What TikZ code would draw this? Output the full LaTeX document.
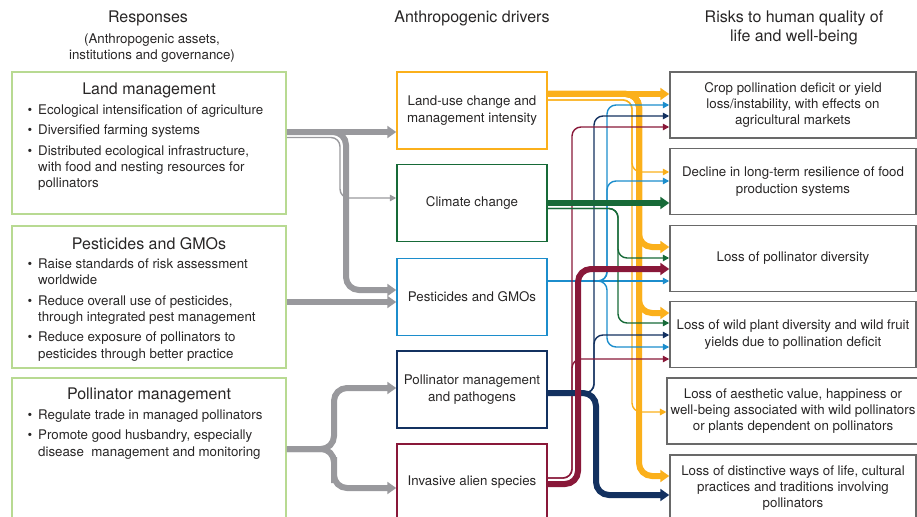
\documentclass[tikz,border=0pt]{standalone}
\usepackage{fontspec}
\setmainfont{TeX Gyre Heros}
\usetikzlibrary{arrows.meta}

\definecolor{inkgray}{RGB}{40,38,38}
\definecolor{respgreen}{RGB}{184,218,146}
\definecolor{riskgray}{RGB}{105,105,105}
\definecolor{flowgray}{RGB}{153,153,157}
\definecolor{landorange}{RGB}{251,176,27}
\definecolor{climgreen}{RGB}{23,106,56}
\definecolor{pestblue}{RGB}{28,141,204}
\definecolor{polnavy}{RGB}{19,49,96}
\definecolor{invmaroon}{RGB}{137,24,57}

\newcommand{\bodyfont}{\fontsize{13.3}{16.3}\selectfont}
\newcommand{\headfont}{\fontsize{16}{19}\selectfont}
\newcommand{\bitem}{\makebox[10.5pt][l]{\textbullet}}
\newcommand{\bcont}{\hspace*{10.5pt}}

\tikzset{
  every node/.append style={text=inkgray},
  resp/.style={draw=respgreen, line width=1.5pt, minimum width=274pt, inner sep=0pt},
  resptitle/.style={font=\headfont, inner sep=0pt},
  resplist/.style={font=\bodyfont, align=left, inner sep=0pt, anchor=north west},
  drv/.style={draw=#1, line width=1.5pt, minimum width=150pt, minimum height=77pt, align=center, font=\bodyfont},
  risk/.style={draw=riskgray, line width=1.5pt, minimum width=246pt, minimum height=66pt, align=center, font=\bodyfont},
  thickflow/.style={draw=#1, line width=6pt, rounded corners=13pt, -{Triangle[length=9pt,width=12pt]}},
  thinflow/.style={draw=#1, line width=1.4pt, rounded corners=9pt, -{Triangle[length=6.5pt,width=6.5pt]}}
}

\begin{document}
\begin{tikzpicture}[x=1pt,y=-1pt]
    \useasboundingbox (0,0) rectangle (917,516);

    % column headings
    \node[font=\headfont] (resphead) at (148,18) {Responses};
    \node[font=\bodyfont, align=center] (respsub) at (152,48) {(Anthropogenic assets,\\institutions and governance)};
    \node[font=\headfont] (drvhead) at (472,18) {Anthropogenic drivers};
    \node[font=\headfont, align=center] (riskhead) at (794,28) {Risks to human quality of\\life and well-being};

    % responses
    \node[resp, minimum height=142pt] (landresp) at (149,143) {};
    \node[resptitle] (landtitle) at (149,90) {Land management};
    \node[resplist] (landlist) at (27.5,104.7) {\bitem Ecological intensification of agriculture\\[4pt]
      \bitem Diversified farming systems\\[4pt]
      \bitem Distributed ecological infrastructure,\\
      \bcont with food and nesting resources for\\
      \bcont pollinators};

    \node[resp, minimum height=142pt] (pestresp) at (149,297) {};
    \node[resptitle] (pesttitle) at (149,244) {Pesticides and GMOs};
    \node[resplist] (pestlist) at (27.5,258.7) {\bitem Raise standards of risk assessment\\
      \bcont worldwide\\[4pt]
      \bitem Reduce overall use of pesticides,\\
      \bcont through integrated pest management\\[4pt]
      \bitem Reduce exposure of pollinators to\\
      \bcont pesticides through better practice};

    \node[resp, minimum height=160pt] (polresp) at (149,458) {};
    \node[resptitle] (poltitle) at (149,395) {Pollinator management};
    \node[resplist] (pollist) at (27.5,409.7) {\bitem Regulate trade in managed pollinators\\[4pt]
      \bitem Promote good husbandry, especially\\
      \bcont disease\ \ management and monitoring};

    % drivers
    \node[drv=landorange] (landuse) at (472,110.5) {Land-use change and\\management intensity};
    \node[drv=climgreen] (climate) at (472,203) {Climate change};
    \node[drv=pestblue] (pest) at (472,297) {Pesticides and GMOs};
    \node[drv=polnavy] (polmgmt) at (472,389.5) {Pollinator management\\and pathogens};
    \node[drv=invmaroon] (invasive) at (472,482.5) {Invasive alien species};

    % risks
    \node[risk] (crop) at (793,105) {Crop pollination deficit or yield\\loss/instability, with effects on\\agricultural markets};
    \node[risk] (decline) at (793,181.5) {Decline in long-term resilience of food\\production systems};
    \node[risk] (poldiv) at (793,258.5) {Loss of pollinator diversity};
    \node[risk] (wild) at (793,334.5) {Loss of wild plant diversity and wild fruit\\yields due to pollination deficit};
    \node[risk] (aesth) at (793,411) {Loss of aesthetic value, happiness or\\well-being associated with wild pollinators\\or plants dependent on pollinators};
    \node[risk] (distinct) at (793,488) {Loss of distinctive ways of life, cultural\\practices and traditions involving\\pollinators};

    % responses -> drivers
    \draw[thinflow=flowgray] (landresp.east |- 0,137.5) -| (340,170) |- (climate.west |- 0,198);
    \draw[thickflow=flowgray] (landresp.east |- 0,132) -- (landuse.west |- 0,132);
    \draw[thickflow=flowgray] (landresp.east |- 0,132) -| (346,220) |- (pest.west |- 0,290);
    \draw[thickflow=flowgray] (pestresp.east |- 0,302) -- (pest.west |- 0,302);
    \draw[thickflow=flowgray] (polresp.east |- 0,449) -| (334,420) |- (polmgmt.west |- 0,388);
    \draw[thickflow=flowgray] (polresp.east |- 0,449) -| (334,470) |- (invasive.west |- 0,488);

    % drivers -> risks
    \draw[thinflow=landorange] (landuse.east |- 0,100) -| (632,150) |- (decline.west |- 0,172);
    \draw[thinflow=landorange] (landuse.east |- 0,100) -| (632,300) |- (aesth.west |- 0,412);
    \draw[thickflow=landorange] (landuse.east |- 0,94) -- (crop.west |- 0,94);
    \draw[thickflow=landorange] (landuse.east |- 0,94) -| (639,200) |- (poldiv.west |- 0,247);
    \draw[thickflow=landorange] (landuse.east |- 0,94) -| (639,280) |- (wild.west |- 0,313);
    \draw[thickflow=landorange] (landuse.east |- 0,94) -| (639,400) |- (distinct.west |- 0,476);

    \draw[thinflow=pestblue] (pest.east |- 0,281) -- (poldiv.west |- 0,281);
    \draw[thinflow=pestblue] (pest.east |- 0,281) -| (607,200) |- (crop.west |- 0,105);
    \draw[thinflow=pestblue] (pest.east |- 0,281) -| (607,230) |- (decline.west |- 0,181);
    \draw[thinflow=pestblue] (pest.east |- 0,281) -| (607,300) |- (wild.west |- 0,347);

    \draw[thinflow=polnavy] (polmgmt.east |- 0,393) -| (594,200) |- (crop.west |- 0,116);
    \draw[thinflow=polnavy] (polmgmt.east |- 0,393) -| (594,370) |- (wild.west |- 0,335);

    \draw[thinflow=invmaroon] (invasive.east |- 0,478) -| (572,300) |- (crop.west |- 0,127);
    \draw[thinflow=invmaroon] (invasive.east |- 0,478) -| (572,420) |- (wild.west |- 0,359);

    \draw[thinflow=climgreen] (climate.east |- 0,208.5) -| (618,240) |- (poldiv.west |- 0,258);
    \draw[thinflow=climgreen] (climate.east |- 0,208.5) -| (618,290) |- (wild.west |- 0,323);
    \draw[thickflow=climgreen] (climate.east |- 0,203) -- (decline.west |- 0,203);

    \draw[thickflow=polnavy] (polmgmt.east |- 0,393) -| (596,450) |- (distinct.west |- 0,495);
    \draw[thickflow=invmaroon] (invasive.east |- 0,484) -| (578,400) |- (poldiv.west |- 0,269);
\end{tikzpicture}
\end{document}
